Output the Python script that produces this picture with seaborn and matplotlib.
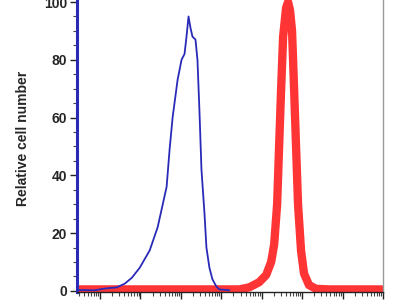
import numpy as np
import pandas as pd
import matplotlib
matplotlib.use("Agg")
import matplotlib.pyplot as plt
import seaborn as sns

# Blue histogram (control)
blue_x = [-0.545, -0.127, 0.120, 0.415, 0.612, 0.785, 0.982, 1.228, 1.425, 1.647,
          1.721, 1.795, 1.918, 2.016, 2.090, 2.139, 2.189, 2.238, 2.287, 2.361,
          2.410, 2.460, 2.509, 2.583, 2.632, 2.706, 2.780, 2.878, 2.952, 3.198]
blue_y = [0.3, 0.2, 0.8, 1.2, 2.5, 4.5, 8, 14, 22, 36,
          49, 60, 73, 80, 82, 88, 95, 91, 88, 87,
          80, 62, 42, 27, 15, 8, 4, 1.5, 0.5, 0.2]

# Red histogram (stained)
red_x = [-0.545, 3.445, 3.691, 3.937, 4.110, 4.233, 4.307, 4.381, 4.430, 4.480,
         4.529, 4.603, 4.652, 4.701, 4.750, 4.800, 4.849, 4.898, 4.972, 5.046,
         5.169, 5.342, 5.662, 6.967]
red_y = [0.5, 0.5, 1.2, 3, 5.5, 10, 16, 30, 50, 70,
         88, 98, 100, 97, 90, 70, 50, 30, 14, 6,
         2, 0.7, 0.5, 0.5]

x_ticks = [0, 1, 2, 3, 4, 5, 6, 7]
x_tick_labels = ["0", "1", "2", "3", "4", "5", "6", "7"]
y_ticks = [0, 20, 40, 60, 80, 100]

sns.set_style("white")
plt.rcParams['font.family'] = ['Liberation Sans', 'DejaVu Sans']

fig = plt.figure(figsize=(4, 3), dpi=100)
ax = fig.add_axes([77/400, 8/300, 306/400, 292/300])

red_df = pd.DataFrame({"x": red_x, "y": red_y})
blue_df = pd.DataFrame({"x": blue_x, "y": blue_y})
sns.lineplot(data=red_df, x="x", y="y", ax=ax, color="#ff3535", linewidth=6,
             sort=False, estimator=None, zorder=2)
sns.lineplot(data=blue_df, x="x", y="y", ax=ax, color="#2a2ab8", linewidth=1.3,
             sort=False, estimator=None, zorder=3)

ax.set_xlim(-0.57, 6.97)
ax.set_ylim(-0.4, 100.7)

ax.set_xticks(x_ticks)
ax.set_xticklabels(x_tick_labels, fontsize=10, fontweight="bold")
minor = [n + np.log10(k) for n in range(-1, 7) for k in range(2, 10)]
minor = [m for m in minor if -0.57 <= m <= 6.97]
ax.set_xticks(minor, minor=True)
ax.set_yticks(y_ticks)
ax.set_yticklabels([str(v) for v in y_ticks], fontsize=10, fontweight="bold")
ax.set_yticks(list(range(0, 101, 5)), minor=True)

ax.tick_params(axis="both", which="major", direction="out", length=5, width=1,
               color="#222222", pad=2, bottom=True, left=True)
ax.tick_params(axis="both", which="minor", direction="out", length=3, width=0.8,
               color="#444444", bottom=True, left=True)
ax.tick_params(axis="x", which="major", pad=1)

ax.set_xlabel("")
ax.set_ylabel("Relative cell number", fontsize=10, fontweight="bold")
ax.yaxis.set_label_coords(-0.155, 0.527)

ax.spines["top"].set_visible(False)
ax.spines["left"].set_color("#2a2ab8")
ax.spines["left"].set_linewidth(2.2)
ax.spines["right"].set_color("#999999")
ax.spines["right"].set_linewidth(1)
ax.spines["bottom"].set_color("#222222")
ax.spines["bottom"].set_linewidth(1)

fig.savefig("out.png", dpi=100)
